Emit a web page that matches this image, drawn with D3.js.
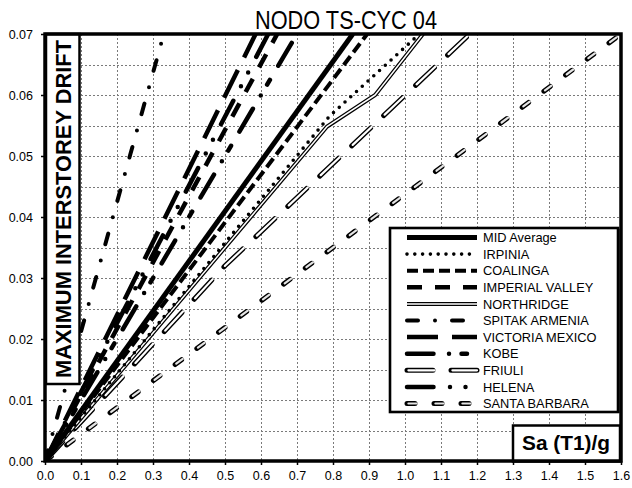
<!DOCTYPE html>
<html>
<head>
<meta charset="utf-8">
<script src="https://cdn.jsdelivr.net/npm/d3@7/dist/d3.min.js"></script>
<style>
  html, body { margin: 0; padding: 0; background: #fff; }
  svg { display: block; font-family: "Liberation Sans", Arial, sans-serif; }
</style>
</head>
<body>
<svg id="chart" width="632" height="488"></svg>
<script>
// Series names, in legend order
const seriesNames = ["MID Average", "IRPINIA", "COALINGA", "IMPERIAL VALLEY", "NORTHRIDGE",
  "SPITAK ARMENIA", "VICTORIA MEXICO", "KOBE", "FRIULI", "HELENA", "SANTA BARBARA"];

// [Sa(T1)/g, maximum interstorey drift] points per record
const midAverage     = [[0, 0], [0.855, 0.07]];
const irpinia        = [[0, 0], [0.79, 0.0565], [1.04, 0.07]];
const coalinga       = [[0, 0], [0.895, 0.07]];
const imperialValley = [[0, 0], [0.645, 0.07]];
const northridge     = [[0, 0], [0.783, 0.0548], [0.917, 0.060], [1.05, 0.07]];
const spitakArmenia  = [[0, 0], [0.33, 0.07]];
const victoriaMexico = [[0, 0], [0.585, 0.07]];
const kobe           = [[0, 0], [0.70, 0.07]];
const friuli         = [[0, 0], [0.5, 0.032], [1.18, 0.07]];
const helena         = [[0, 0], [0.62, 0.07]];
const santaBarbara   = [[0, 0], [1.6, 0.07]];

const seriesValues = [midAverage, irpinia, coalinga, imperialValley, northridge,
  spitakArmenia, victoriaMexico, kobe, friuli, helena, santaBarbara];

// Axis ticks and grid
const xTickValues = [0, 0.1, 0.2, 0.3, 0.4, 0.5, 0.6, 0.7, 0.8, 0.9, 1.0, 1.1, 1.2, 1.3, 1.4, 1.5, 1.6];
const yTickValues = [0, 0.01, 0.02, 0.03, 0.04, 0.05, 0.06, 0.07];
const yGridValues = [0.005, 0.01, 0.015, 0.02, 0.025, 0.03, 0.035, 0.04, 0.045, 0.05, 0.055, 0.06, 0.065];

// Line style per record: stacked stroke layers; pattern = visible [dash, gap, ...] lengths
const styles = [
  [{ c: "#000", w: 5 }],
  [{ c: "#000", w: 3.6, pattern: [3.6, 4.2], round: true }],
  [{ c: "#000", w: 4, pattern: [11, 5] }],
  [{ c: "#000", w: 4.5, pattern: [15, 13] }],
  [{ c: "#000", w: 4 }, { c: "#fff", w: 1.5 }],
  [{ c: "#000", w: 4, pattern: [15, 13, 4, 13], round: true }],
  [{ c: "#000", w: 4.5, pattern: [31, 14] }],
  [{ c: "#000", w: 4.5, pattern: [31, 11, 4.5, 8, 10, 12], round: true }],
  [{ c: "#000", w: 5, pattern: [31, 13], round: true }, { c: "#fff", w: 2.2, pattern: [31, 13], round: true, inner: true }],
  [{ c: "#000", w: 4.5, pattern: [31, 12, 4.5, 11, 4.5, 13], round: true }],
  [{ c: "#000", w: 5, pattern: [13, 14], round: true }, { c: "#e4e4e4", w: 2.2, pattern: [13, 14], round: true, inner: true }]
];

const svg = d3.select("#chart");
const W = 632, H = 488;
const margin = { top: 34, right: 11, bottom: 27, left: 45 };
const iw = W - margin.left - margin.right;
const ih = H - margin.top - margin.bottom;

const x = d3.scaleLinear().domain([0, 1.6]).range([margin.left, margin.left + iw]);
const y = d3.scaleLinear().domain([0, 0.07]).range([margin.top + ih, margin.top]);

// dash array that keeps visible lengths when caps are round
function dashArray(layer, outerW) {
  if (!layer.pattern) return null;
  const cw = layer.round ? (layer.inner ? layer.w : layer.w) : 0;
  const shift = layer.inner ? (outerW - layer.w) : 0;
  return layer.pattern.map((v, i) => i % 2 === 0
    ? Math.max(0, v - cw - shift)
    : v + cw + shift).join(",");
}
function dashOffset(layer, outerW) {
  if (!layer.inner) return 0;
  return -(outerW - layer.w) / 2;
}

// Title
svg.append("text")
  .attr("x", 346).attr("y", 29)
  .attr("text-anchor", "middle")
  .attr("font-size", 25)
  .attr("textLength", 182).attr("lengthAdjust", "spacingAndGlyphs")
  .text("NODO TS-CYC 04");

// Grid
const grid = svg.append("g").attr("stroke", "#7a7a7a").attr("stroke-width", 1).attr("stroke-dasharray", "2,2");
grid.selectAll("line.gx").data(xTickValues.slice(1, -1)).join("line")
  .attr("x1", d => Math.round(x(d)) + 0.5).attr("x2", d => Math.round(x(d)) + 0.5)
  .attr("y1", margin.top).attr("y2", margin.top + ih);
grid.selectAll("line.gy").data(yGridValues).join("line")
  .attr("y1", d => Math.round(y(d)) + 0.5).attr("y2", d => Math.round(y(d)) + 0.5)
  .attr("x1", margin.left).attr("x2", margin.left + iw);

// Axes
const xAxis = d3.axisBottom(x).tickValues(xTickValues).tickFormat(d3.format(".1f")).tickSize(4).tickPadding(6);
const yAxis = d3.axisLeft(y).tickValues(yTickValues).tickFormat(d3.format(".2f")).tickSize(4).tickPadding(8);
const gx = svg.append("g").attr("transform", `translate(0,${margin.top + ih})`).call(xAxis);
const gy = svg.append("g").attr("transform", `translate(${margin.left},0)`).call(yAxis);
[gx, gy].forEach(g => {
  g.select(".domain").remove();
  g.selectAll("text").attr("font-size", 12.5).attr("fill", "#000")
    .attr("font-family", "'Liberation Sans', Arial, sans-serif");
  g.selectAll("line").attr("stroke", "#000").attr("stroke-width", 1.5);
});

// Data lines
svg.append("clipPath").attr("id", "plotClip").append("rect")
  .attr("x", margin.left).attr("y", margin.top).attr("width", iw).attr("height", ih);
const line = d3.line().x(d => x(d[0])).y(d => y(d[1]));
const plot = svg.append("g").attr("clip-path", "url(#plotClip)");
// draw lighter records first so the heavy average sits on top
const drawOrder = [10, 8, 4, 1, 2, 5, 6, 7, 9, 3, 0];
drawOrder.forEach(i => {
  const outerW = styles[i][0].w;
  styles[i].forEach(layer => {
    plot.append("path")
      .datum(seriesValues[i])
      .attr("d", line)
      .attr("fill", "none")
      .attr("stroke", layer.c)
      .attr("stroke-width", layer.w)
      .attr("stroke-linecap", layer.round ? "round" : "butt")
      .attr("stroke-linejoin", "round")
      .attr("stroke-dasharray", dashArray(layer, outerW))
      .attr("stroke-dashoffset", dashOffset(layer, outerW));
  });
});

// Y-axis title box
svg.append("rect")
  .attr("x", margin.left + 1).attr("y", margin.top)
  .attr("width", 33.5).attr("height", 350)
  .attr("fill", "#fff").attr("stroke", "#000").attr("stroke-width", 2.5);
svg.append("text")
  .attr("transform", `translate(71,209) rotate(-90)`)
  .attr("text-anchor", "middle")
  .attr("font-size", 22.5).attr("font-weight", "bold")
  .attr("textLength", 338).attr("lengthAdjust", "spacingAndGlyphs")
  .text("MAXIMUM INTERSTOREY DRIFT");

// X-axis title box
svg.append("rect")
  .attr("x", 513).attr("y", 425.5)
  .attr("width", 107).attr("height", 36)
  .attr("fill", "#fff").attr("stroke", "#000").attr("stroke-width", 2.5);
svg.append("text")
  .attr("x", 566).attr("y", 450)
  .attr("text-anchor", "middle")
  .attr("font-size", 19.5).attr("font-weight", "bold")
  .attr("textLength", 88).attr("lengthAdjust", "spacingAndGlyphs")
  .text("Sa (T1)/g");

// Legend
const lg = svg.append("g");
lg.append("rect")
  .attr("x", 390).attr("y", 228).attr("width", 228).attr("height", 184)
  .attr("fill", "#fff").attr("stroke", "#000").attr("stroke-width", 2.6);
lg.append("line").attr("x1", 618.5).attr("x2", 618.5).attr("y1", 229).attr("y2", 413)
  .attr("stroke", "#000").attr("stroke-width", 2);
const rowY = d3.scaleLinear().domain([0, seriesNames.length - 1]).range([237.5, 403.5]);
seriesNames.forEach((name, i) => {
  const yy = rowY(i);
  const outerW = styles[i][0].w;
  styles[i].forEach(layer => {
    lg.append("path")
      .attr("d", d3.line()([[407, yy], [477, yy]]))
      .attr("fill", "none")
      .attr("stroke", layer.c)
      .attr("stroke-width", layer.w)
      .attr("stroke-linecap", layer.round ? "round" : "butt")
      .attr("stroke-dasharray", dashArray(layer, outerW))
      .attr("stroke-dashoffset", dashOffset(layer, outerW));
  });
  lg.append("text")
    .attr("x", 483).attr("y", yy)
    .attr("dy", "0.36em")
    .attr("font-size", 12.8)
    .text(name);
});

// Plot frame
svg.append("rect")
  .attr("x", margin.left).attr("y", margin.top)
  .attr("width", iw).attr("height", ih)
  .attr("fill", "none").attr("stroke", "#000").attr("stroke-width", 3.5);
</script>
</body>
</html>
